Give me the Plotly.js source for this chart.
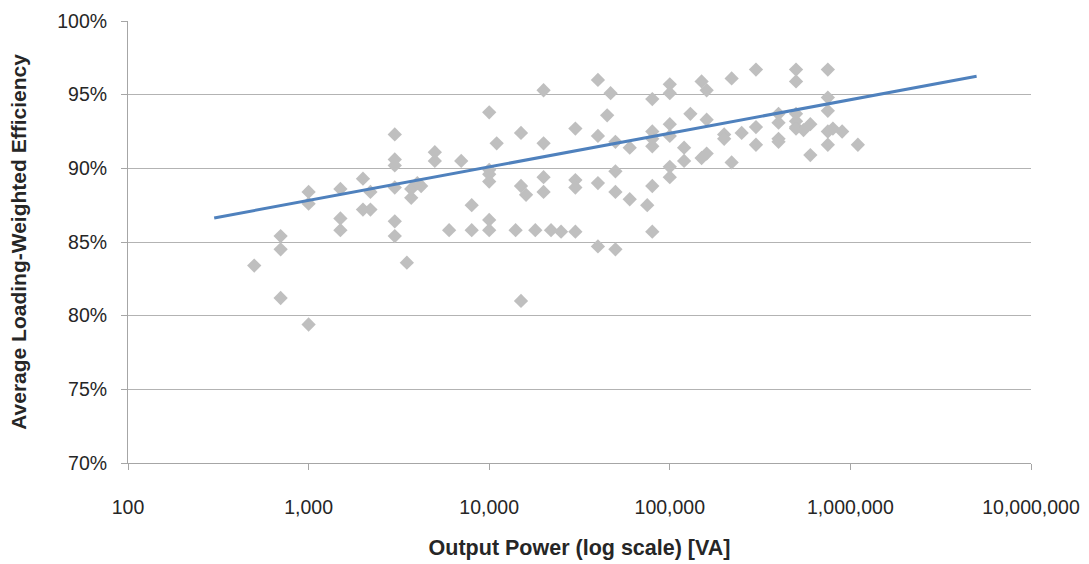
<!DOCTYPE html>
<html>
<head>
<meta charset="utf-8">
<script src="https://cdn.plot.ly/plotly-3.0.1.min.js"></script>
<style>html,body{margin:0;padding:0;background:#fff;}#chart{width:1089px;height:564px;}</style>
</head>
<body>
<div id="chart"></div>
<script>
// Output power [VA]
const powerVA = [
  500, 700, 700, 700, 1000, 1000, 1000, 1500, 1500, 1500,
  2000, 2000, 2200, 2200, 3000, 3000, 3000, 3000, 3000, 3000,
  3500, 3700, 3700, 4000, 4200, 5000, 5000, 6000, 7000, 8000,
  8000, 10000, 10000, 10000, 10000, 10000, 10000, 11000, 14000, 15000,
  15000, 16000, 15000, 18000, 20000, 20000, 20000, 20000, 22000, 25000,
  30000, 30000, 30000, 30000, 40000, 40000, 40000, 40000, 45000, 47000,
  50000, 50000, 50000, 50000, 60000, 60000, 75000, 80000, 80000, 80000,
  80000, 80000, 80000, 100000, 100000, 100000, 100000, 100000, 100000, 120000,
  120000, 130000, 150000, 160000, 160000, 150000, 160000, 200000, 200000, 220000,
  220000, 250000, 300000, 300000, 300000, 400000, 400000, 400000, 400000, 500000,
  500000, 500000, 500000, 500000, 500000, 550000, 600000, 600000, 750000, 750000,
  750000, 750000, 750000, 800000, 900000, 1100000
];
// Average loading-weighted efficiency
const efficiency = [
  0.834, 0.854, 0.845, 0.812, 0.794, 0.884, 0.876, 0.886, 0.866, 0.858,
  0.893, 0.872, 0.884, 0.872, 0.923, 0.906, 0.902, 0.887, 0.864, 0.854,
  0.836, 0.880, 0.886, 0.890, 0.888, 0.911, 0.905, 0.858, 0.905, 0.875,
  0.858, 0.938, 0.899, 0.896, 0.891, 0.865, 0.858, 0.917, 0.858, 0.924,
  0.888, 0.882, 0.810, 0.858, 0.953, 0.917, 0.894, 0.884, 0.858, 0.857,
  0.927, 0.892, 0.887, 0.857, 0.960, 0.922, 0.890, 0.847, 0.936, 0.951,
  0.918, 0.898, 0.884, 0.845, 0.914, 0.879, 0.875, 0.947, 0.925, 0.920,
  0.915, 0.888, 0.857, 0.957, 0.951, 0.930, 0.922, 0.901, 0.894, 0.914,
  0.905, 0.937, 0.959, 0.953, 0.933, 0.907, 0.910, 0.923, 0.920, 0.961,
  0.904, 0.924, 0.967, 0.928, 0.916, 0.937, 0.931, 0.920, 0.918, 0.967,
  0.959, 0.937, 0.932, 0.928, 0.927, 0.926, 0.930, 0.909, 0.967, 0.948,
  0.939, 0.925, 0.916, 0.927, 0.925, 0.916
];
// Logarithmic trend line end points
const trendX = [300, 5000000];
const trendY = [0.8663, 0.9625];

const xTickVals = [100, 1000, 10000, 100000, 1000000, 10000000];
const xTickText = ["100", "1,000", "10,000", "100,000", "1,000,000", "10,000,000"];

const font = "Liberation Sans, Arial, sans-serif";

const data = [
  {
    type: "scatter", mode: "markers", x: powerVA, y: efficiency,
    marker: {symbol: "diamond", size: 11, color: "#BFBFBF", line: {width: 0}},
    showlegend: false, hoverinfo: "x+y"
  },
  {
    type: "scatter", mode: "lines", x: trendX, y: trendY,
    line: {color: "#4F81BD", width: 3},
    showlegend: false, hoverinfo: "skip"
  }
];

const layout = {
  width: 1089, height: 564,
  margin: {l: 128, r: 58, t: 21, b: 101},
  paper_bgcolor: "#fff", plot_bgcolor: "#fff",
  font: {family: font, size: 19.5, color: "#262626"},
  xaxis: {
    type: "log", range: [2, 7],
    tickvals: xTickVals, ticktext: xTickText,
    showgrid: false, zeroline: false,
    showline: true, linecolor: "#A6A6A6", linewidth: 1,
    ticks: "outside", ticklen: 6, tickcolor: "#A6A6A6",
    ticklabelstandoff: 21,
    tickfont: {family: font, size: 19.5, color: "#262626"},
    title: {text: "Output Power (log scale) [VA]", standoff: 22,
            font: {family: font, size: 21.5, color: "#262626", weight: "bold"}}
  },
  yaxis: {
    range: [0.7, 1.0], dtick: 0.05, tick0: 0.7, tickformat: ".0%",
    showgrid: true, gridcolor: "#B3B3B3", gridwidth: 1,
    zeroline: false,
    showline: true, linecolor: "#A6A6A6", linewidth: 1,
    ticks: "outside", ticklen: 6, tickcolor: "#A6A6A6",
    ticklabelstandoff: 10,
    tickfont: {family: font, size: 19.5, color: "#262626"},
    title: {text: "Average Loading-Weighted Efficiency", standoff: 24,
            font: {family: font, size: 21, color: "#262626", weight: "bold"}}
  }
};

Plotly.newPlot("chart", data, layout, {staticPlot: true, displayModeBar: false});
</script>
</body>
</html>
